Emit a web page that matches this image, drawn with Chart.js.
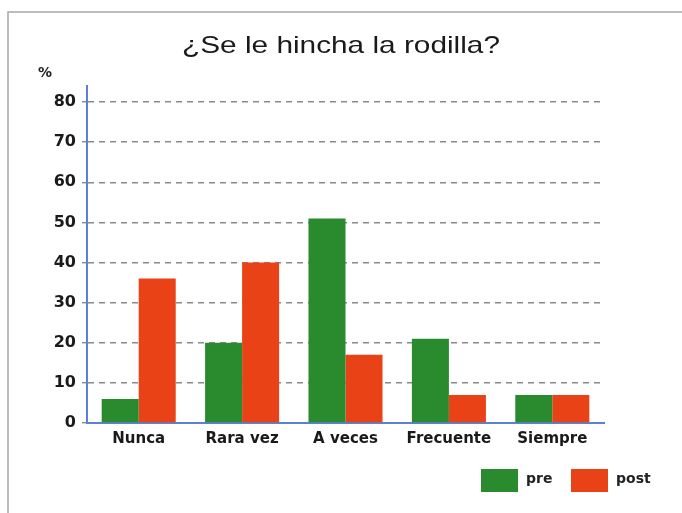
<!DOCTYPE html>
<html>
<head>
<meta charset="utf-8">
<script src="https://cdn.jsdelivr.net/npm/chart.js@4/dist/chart.umd.min.js"></script>
<style>
html,body{margin:0;padding:0;background:#fff;}
#wrap{width:682px;height:513px;position:relative;}
</style>
</head>
<body>
<div id="wrap"><canvas id="c" width="682" height="513"></canvas></div>
<script>
const titleText = '¿Se le hincha la rodilla?';
const unitLabel = '%';
const categories = ['Nunca', 'Rara vez', 'A veces', 'Frecuente', 'Siempre'];
const preValues = [6, 20, 51, 21, 7];
const postValues = [36, 40, 17, 7, 7];
const seriesNames = ['pre', 'post'];
const yTicks = [0, 10, 20, 30, 40, 50, 60, 70, 80];

const GREEN = '#2a8a2e';
const RED = '#ea4217';
const AXIS = '#5b80d4';
const FONT = "'DejaVu Sans', sans-serif";

const decor = {
  id: 'decor',
  beforeDraw(chart) {
    const ctx = chart.ctx;
    ctx.save();
    ctx.fillStyle = '#fff';
    ctx.fillRect(0, 0, chart.width, chart.height);
    ctx.strokeStyle = '#a8a8a8';
    ctx.lineWidth = 1.5;
    ctx.beginPath();
    ctx.moveTo(8, chart.height);
    ctx.lineTo(8, 12);
    ctx.lineTo(chart.width, 12);
    ctx.stroke();
    ctx.restore();
  },
  afterDraw(chart) {
    const ctx = chart.ctx;
    ctx.save();
    ctx.font = "24px 'Liberation Sans', Arial, sans-serif";
    ctx.fillStyle = '#1a1a1a';
    ctx.textBaseline = 'middle';
    const w = ctx.measureText(titleText).width;
    const target = 318;
    ctx.translate(341, 46);
    ctx.scale(target / w, 1);
    ctx.textAlign = 'center';
    ctx.fillText(titleText, 0, 0);
    ctx.restore();

    ctx.save();
    ctx.font = "bold 14px " + FONT;
    ctx.fillStyle = '#222';
    ctx.textAlign = 'left';
    ctx.textBaseline = 'middle';
    ctx.fillText(unitLabel, 38, 73);
    const items = chart.data.datasets;
    const boxes = [481, 571];
    items.forEach((ds, i) => {
      const x = boxes[i];
      ctx.fillStyle = ds.backgroundColor;
      ctx.fillRect(x, 469, 37, 23);
      ctx.fillStyle = '#222';
      ctx.font = "bold 14px " + FONT;
      ctx.fillText(ds.label, x + 45, 479);
    });
    ctx.restore();
  }
};

new Chart(document.getElementById('c'), {
  type: 'bar',
  data: {
    labels: categories,
    datasets: [
      { label: seriesNames[0], data: preValues, backgroundColor: GREEN, borderWidth: 0 },
      { label: seriesNames[1], data: postValues, backgroundColor: RED, borderWidth: 0 }
    ]
  },
  options: {
    responsive: false,
    animation: false,
    devicePixelRatio: 1,
    layout: { padding: { left: 0, right: 78, top: 86, bottom: 60 } },
    plugins: { legend: { display: false }, title: { display: false }, tooltip: { enabled: false } },
    datasets: { bar: { categoryPercentage: 0.716, barPercentage: 1.0 } },
    scales: {
      x: {
        grid: { display: false, drawTicks: false },
        border: { display: true, color: AXIS, width: 2 },
        ticks: { color: '#1a1a1a', font: { family: FONT, size: 15, weight: 'bold' }, padding: 7, maxRotation: 0 },
        afterFit(scale) { scale.height = 30; }
      },
      y: {
        min: 0,
        max: 84,
        afterBuildTicks(scale) { scale.ticks = yTicks.map(v => ({ value: v })); },
        grid: {
          color: '#8a8a8a',
          lineWidth: 1.4,
          tickLength: 5,
          tickColor: '#8a8a8a',
          drawOnChartArea: true
        },
        border: { display: true, color: AXIS, width: 2, dash: [6, 5] },
        ticks: { color: '#1a1a1a', font: { family: FONT, size: 16, weight: 'bold' }, padding: 6,
          callback: v => String(v) },
        afterFit(scale) { scale.width = 87; }
      }
    }
  },
  plugins: [decor]
});
</script>
</body>
</html>
